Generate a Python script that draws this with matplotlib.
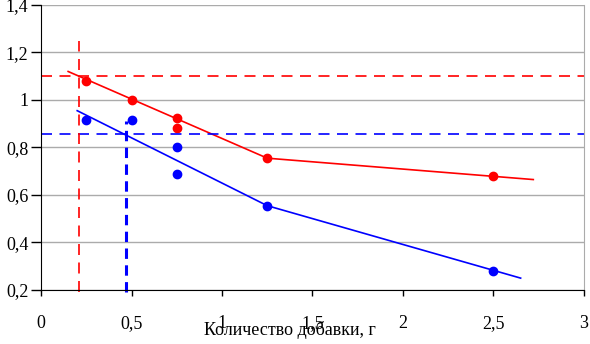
import matplotlib.pyplot as plt
from matplotlib.ticker import FuncFormatter

plt.rcParams['font.family'] = ['Liberation Serif', 'DejaVu Serif']

# измеренные точки
red_x = [0.25, 0.5, 0.75, 0.75, 1.25, 2.5]
red_y = [1.08, 1.0, 0.925, 0.88, 0.755, 0.68]
blue_x = [0.25, 0.5, 0.75, 0.75, 1.25, 2.5]
blue_y = [0.915, 0.915, 0.80, 0.69, 0.555, 0.28]

# линии тренда (ломаные)
red_line_x = [0.15, 1.25, 2.72]
red_line_y = [1.12, 0.755, 0.665]
blue_line_x = [0.2, 1.25, 2.65]
blue_line_y = [0.955, 0.555, 0.25]

# пороговые уровни
red_level = 1.1
blue_level = 0.855
red_vx = 0.21
red_vtop = 1.25
blue_vx = 0.47
blue_vtop = 0.91

fig = plt.figure(figsize=(5.9, 3.44), dpi=100)
ax = fig.add_axes([0.0695, 0.157, 0.9203, 0.8285])

ax.set_xlim(0, 3)
ax.set_ylim(0.2, 1.4)
ax.set_yticks([0.2, 0.4, 0.6, 0.8, 1.0, 1.2, 1.4])
ax.set_xticks([0, 0.5, 1, 1.5, 2, 2.5, 3])
fmt = FuncFormatter(lambda v, p: ('%g' % round(v, 2)).replace('.', ','))
ax.xaxis.set_major_formatter(fmt)
ax.yaxis.set_major_formatter(fmt)
ax.grid(axis='y', color='#ababab', lw=1)
ax.set_axisbelow(True)
ax.spines['top'].set_visible(False)
ax.spines['right'].set_color('#ababab')
ax.spines['left'].set_color('black')
ax.spines['bottom'].set_color('black')
ax.tick_params(axis='y', direction='out', length=7, width=1, labelsize=13, pad=2)
ax.tick_params(axis='x', direction='out', length=4, width=1, labelsize=13, pad=14)

ax.plot(red_line_x, red_line_y, color='#ff0000', lw=1.2)
ax.plot(blue_line_x, blue_line_y, color='#0000ff', lw=1.2)
ax.plot(red_x, red_y, 'o', color='#ff0000', ms=6)
ax.plot(blue_x, blue_y, 'o', color='#0000ff', ms=6)

ax.axhline(red_level, color='#ff0000', lw=1.2, ls=(0, (6.6, 4.5)))
ax.axhline(blue_level, color='#0000ff', lw=1.2, ls=(0, (6.6, 4.5)))
ax.plot([red_vx, red_vx], [0.19, red_vtop], color='#ff0000', lw=1.2,
        ls=(0, (6.6, 4.5)), clip_on=False)
ax.plot([blue_vx, blue_vx], [0.19, blue_vtop], color='#0000ff', lw=2.2,
        ls=(0, (3.4, 2.1)), clip_on=False)

ax.set_xlabel('Количество добавки, г', fontsize=13)
ax.xaxis.set_label_coords(0.458, -0.108)

fig.savefig('out.png', dpi=100)
